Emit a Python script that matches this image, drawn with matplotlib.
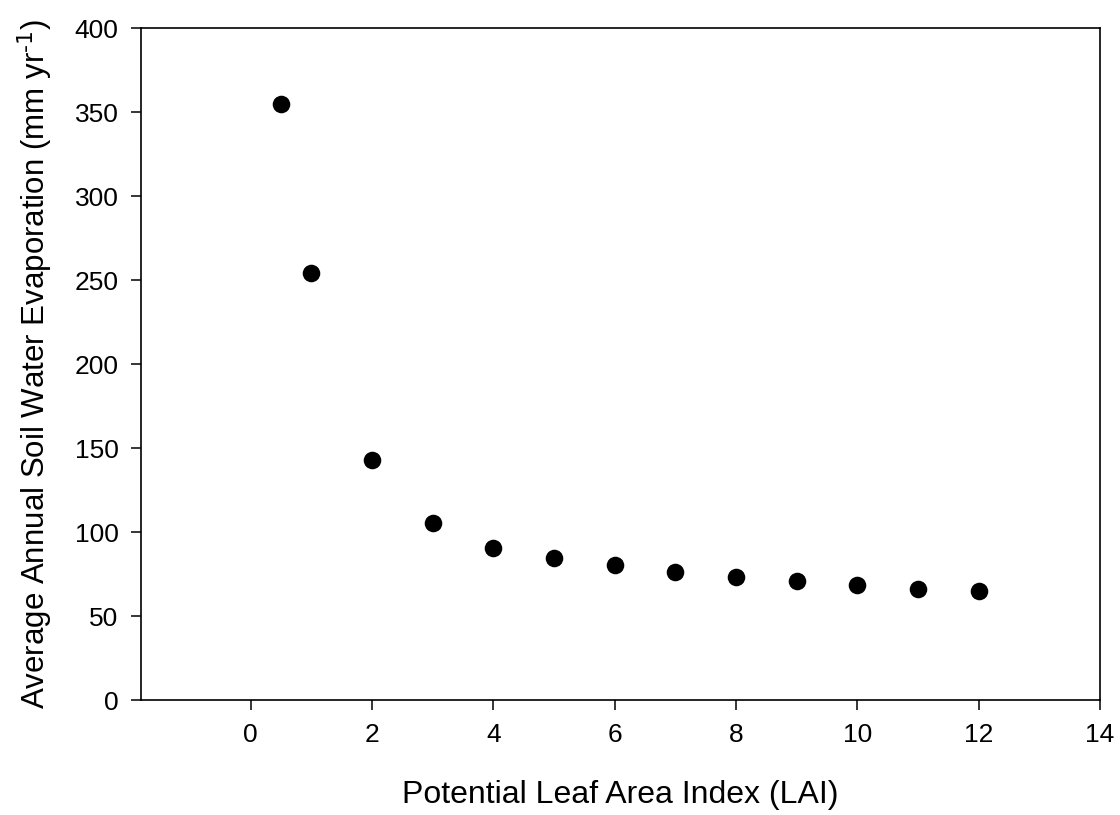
import matplotlib
matplotlib.use("Agg")
import matplotlib.pyplot as plt

plt.rcParams['font.family'] = ['Liberation Sans', 'DejaVu Sans']
plt.rcParams['mathtext.default'] = 'regular'

# potential LAI vs. simulated soil evaporation
lai = [0.5, 1, 2, 3, 4, 5, 6, 7, 8, 9, 10, 11, 12]
soil_evap = [355, 254.5, 143, 105.6, 90.3, 84.6, 80.4, 76.4, 73.4, 70.9, 68.5, 66.1, 64.7]

x_ticks = [0, 2, 4, 6, 8, 10, 12, 14]
y_ticks = [0, 50, 100, 150, 200, 250, 300, 350, 400]

fig = plt.figure(figsize=(11.2, 8.15), dpi=100)
ax = fig.add_axes([0.1262, 0.1411, 0.8559, 0.8242])

ax.scatter(lai, soil_evap, s=160, color='black', zorder=3, linewidths=0)

ax.set_xlim(-1.8, 14)
ax.set_ylim(0, 400)
ax.set_xticks(x_ticks)
ax.set_yticks(y_ticks)

for sp in ax.spines.values():
    sp.set_linewidth(1.2)
ax.tick_params(direction='out', length=7.5, width=1.1, labelsize=19)
ax.tick_params(axis='x', pad=9)
ax.tick_params(axis='y', pad=9)

ax.set_xlabel('Potential Leaf Area Index (LAI)', fontsize=23, labelpad=24)
ax.set_ylabel('Average Annual Soil Water Evaporation (mm yr$^{\\text{-1}}$)',
              fontsize=22.5, labelpad=14)

fig.savefig('out.png', dpi=100)
